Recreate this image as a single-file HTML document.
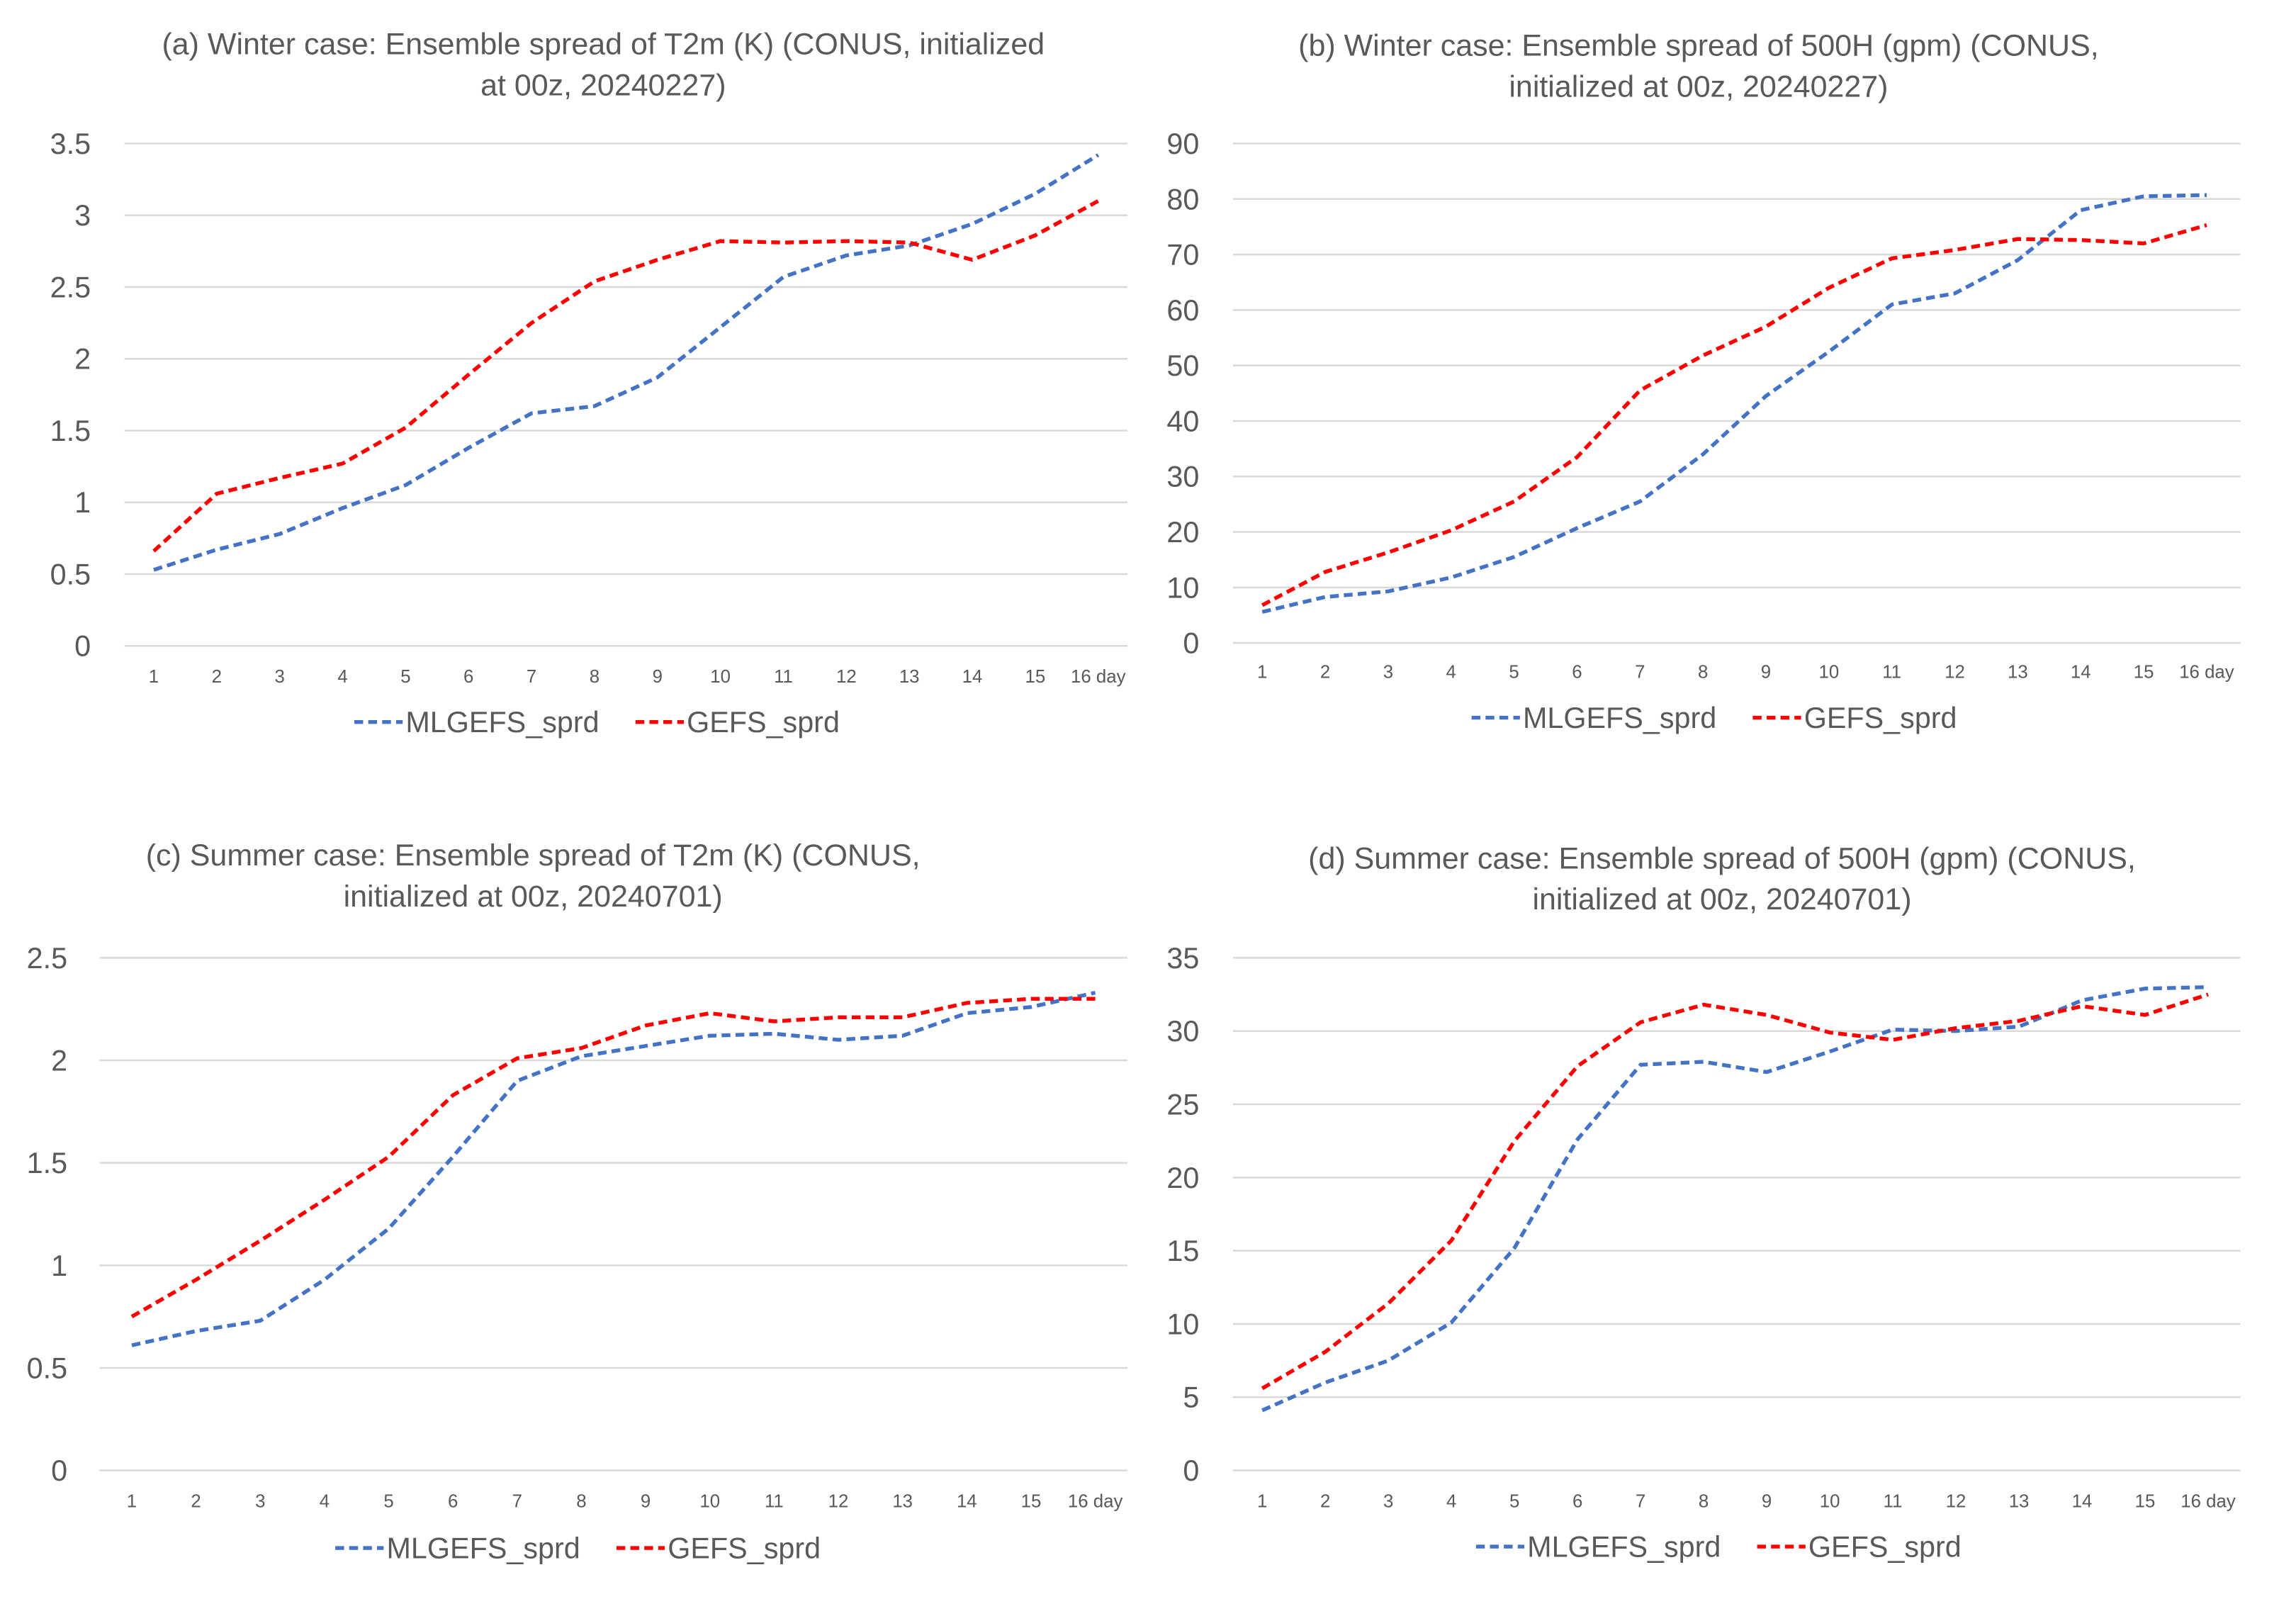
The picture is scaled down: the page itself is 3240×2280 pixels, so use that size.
<!DOCTYPE html>
<html><head><meta charset="utf-8"><style>
html,body{margin:0;padding:0;background:#fff;}
svg{display:block;}
text{font-family:"Liberation Sans",sans-serif;fill:#595959;}
</style></head><body>
<svg id="fig" width="3240" height="2280" viewBox="0 0 1568 1103.4" xmlns="http://www.w3.org/2000/svg"></svg>
<script>
const days = [1,2,3,4,5,6,7,8,9,10,11,12,13,14,15,16];
const xLabels = ["1","2","3","4","5","6","7","8","9","10","11","12","13","14","15","16 day"];
const aTicks = [0,0.5,1,1.5,2,2.5,3,3.5];
const aML = [0.53,0.67,0.78,0.96,1.12,1.38,1.62,1.67,1.87,2.22,2.57,2.72,2.79,2.94,3.15,3.42];
const aGEFS = [0.66,1.06,1.17,1.27,1.52,1.89,2.25,2.54,2.69,2.82,2.81,2.82,2.81,2.69,2.86,3.10];
const bTicks = [0,10,20,30,40,50,60,70,80,90];
const bML = [5.6,8.3,9.3,11.8,15.5,20.7,25.5,34,44.5,52.5,61,63,69,78,80.5,80.7];
const bGEFS = [6.8,12.8,16.3,20.3,25.5,33.5,45.5,51.8,57,64,69.3,70.8,72.8,72.6,72,75.3];
const cTicks = [0,0.5,1,1.5,2,2.5];
const cML = [0.61,0.68,0.73,0.93,1.18,1.53,1.90,2.02,2.07,2.12,2.13,2.10,2.12,2.23,2.26,2.33];
const cGEFS = [0.75,0.93,1.12,1.32,1.53,1.83,2.01,2.06,2.17,2.23,2.19,2.21,2.21,2.28,2.30,2.30];
const dTicks = [0,5,10,15,20,25,30,35];
const dML = [4.1,6.0,7.5,10.1,15.2,22.6,27.7,27.9,27.2,28.6,30.1,30.0,30.3,32.1,32.9,33.0];
const dGEFS = [5.6,8.1,11.4,15.7,22.5,27.6,30.6,31.8,31.1,29.9,29.4,30.2,30.7,31.7,31.1,32.5];

const NS="http://www.w3.org/2000/svg";
const svg=document.getElementById('fig');
function mk(tag,attrs,parent){const e=document.createElementNS(NS,tag);for(const k in attrs)e.setAttribute(k,attrs[k]);(parent||svg).appendChild(e);return e;}

function panel(id,cfg,ticks,ml,gefs){
  const g=mk('g',{});
  
  
  const ymax=ticks[ticks.length-1];
  const ys=v=>cfg.y0+(cfg.yTop-cfg.y0)*v/ymax;
  const xs=d=>cfg.x1+(cfg.x16-cfg.x1)*(d-1)/15;
  cfg.title.forEach((t,i)=>{
    const e=mk('text',{x:cfg.tx,y:cfg.ty+i*28,'text-anchor':'middle','font-size':20.8},g);
    e.textContent=t;
    
    
  });
  ticks.forEach(v=>{
    const y=ys(v);
    const l=mk('line',{x1:cfg.gx0,x2:cfg.gx1,y1:y,y2:y,stroke:'#d9d9d9','stroke-width':1.2},g);
    
    
    const t=mk('text',{x:cfg.lx,y:y+7,'text-anchor':'end','font-size':20},g);
    t.textContent=String(v);
    
    
  });
  days.forEach((d,i)=>{
    const t=mk('text',{x:xs(d),y:cfg.xly,'text-anchor':'middle','font-size':12.5},g);
    t.textContent=xLabels[i];
    
    
  });
  [[ml,'#4472c4','mlgefs-line'],[gefs,'#ff0000','gefs-line']].forEach(([arr,col,nm])=>{
    const pts=arr.map((v,i)=>xs(days[i]).toFixed(1)+','+ys(v).toFixed(1)).join(' ');
    const p=mk('polyline',{points:pts,fill:'none',stroke:col,'stroke-width':2.6,'stroke-dasharray':'6,3.5'},g);
    
    
  });
  const lg=mk('g',{},g);
  
  
  const entries=[['MLGEFS_sprd','#4472c4',cfg.lgx],['GEFS_sprd','#ff0000',cfg.lgx+192]];
  entries.forEach(([n,c,x])=>{
    const eg=mk('g',{},lg);
    
    
    mk('line',{x1:x,x2:x+33,y1:cfg.lgy,y2:cfg.lgy,stroke:c,'stroke-width':2.6,'stroke-dasharray':'6,3.5'},eg);
    const t=mk('text',{x:x+35,y:cfg.lgy+7,'font-size':20},eg);
    t.textContent=n;
  });
}
panel('a',{y0:441,yTop:98,x1:105,x16:750,gx0:85,gx1:770,lx:62,xly:466,tx:412,ty:37,lgy:493,lgx:242,title:['(a) Winter case: Ensemble spread of T2m (K) (CONUS, initialized','at 00z, 20240227)']},aTicks,aML,aGEFS);
panel('b',{y0:439,yTop:98,x1:862,x16:1507,gx0:842,gx1:1530,lx:819,xly:463,tx:1160,ty:38,lgy:490,lgx:1005,title:['(b) Winter case: Ensemble spread of 500H (gpm) (CONUS,','initialized at 00z, 20240227)']},bTicks,bML,bGEFS);
panel('c',{y0:1004,yTop:654,x1:90,x16:748,gx0:68,gx1:770,lx:46,xly:1029,tx:364,ty:591,lgy:1057,lgx:229,title:['(c) Summer case: Ensemble spread of T2m (K) (CONUS,','initialized at 00z, 20240701)']},cTicks,cML,cGEFS);
panel('d',{y0:1004,yTop:654,x1:862,x16:1508,gx0:842,gx1:1530,lx:819,xly:1029,tx:1176,ty:593,lgy:1056,lgx:1008,title:['(d) Summer case: Ensemble spread of 500H (gpm) (CONUS,','initialized at 00z, 20240701)']},dTicks,dML,dGEFS);
</script>
</body></html>
